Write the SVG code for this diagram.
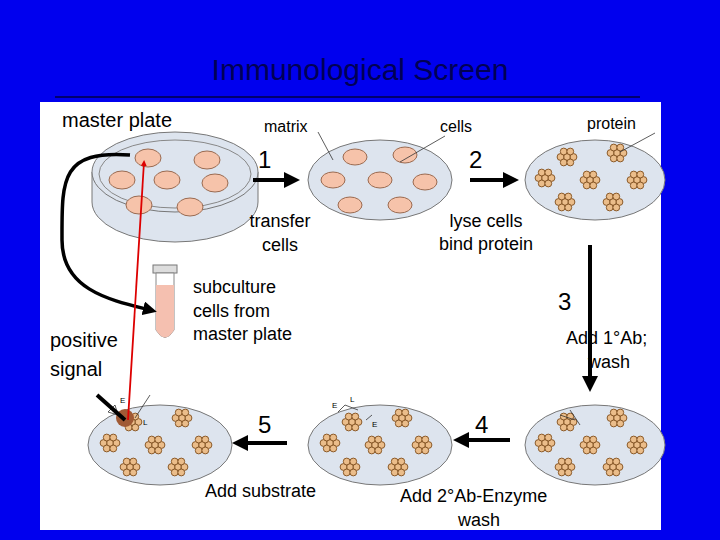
<svg xmlns="http://www.w3.org/2000/svg" width="720" height="540" viewBox="0 0 720 540">
<style>
text{font-family:"Liberation Sans",Arial,sans-serif;fill:#000}
.plate{fill:#dde4ee;stroke:#777;stroke-width:1}
.col{fill:#f6c3aa;stroke:#9a6a50;stroke-width:1}
.ar{stroke:#000;stroke-width:4;fill:none;marker-end:url(#ah)}
.thin{stroke:#333;stroke-width:0.8;fill:none}
</style>
<defs>
<marker id="ah" markerWidth="4" markerHeight="4" refX="2" refY="2" orient="auto"><path d="M0,0L4,2L0,4z" fill="#000"/></marker>
<marker id="rh" markerWidth="6" markerHeight="6" refX="4" refY="3" orient="auto" markerUnits="userSpaceOnUse"><path d="M0,0L6,3L0,6z" fill="#d00"/></marker>
<g id="cl" fill="#ebbd8a" stroke="#8a5a2a" stroke-width="1">
<circle cx="0" cy="0" r="3.4"/><circle cx="-6.5" cy="0" r="3.4"/><circle cx="6.5" cy="0" r="3.4"/><circle cx="-3.3" cy="-5.5" r="3.4"/><circle cx="3.3" cy="-5.5" r="3.4"/><circle cx="-3.3" cy="5.5" r="3.4"/><circle cx="3.3" cy="5.5" r="3.4"/>
</g>
<g id="cls"><use href="#cl" x="-28" y="-23"/><use href="#cl" x="22" y="-27"/><use href="#cl" x="-50" y="-2"/><use href="#cl" x="-5" y="0"/><use href="#cl" x="42" y="0"/><use href="#cl" x="-30" y="22"/><use href="#cl" x="18" y="22"/></g>
</defs>
<rect width="720" height="540" fill="#0000ee"/>
<rect x="40" y="102" width="621" height="428" fill="#fff"/>
<text x="360" y="80" font-size="30" text-anchor="middle" fill="#000055" style="fill:#000055">Immunological Screen</text>
<line x1="55" y1="97" x2="640" y2="97" stroke="#000044" stroke-width="1.5"/>
<g id="master">
<path d="M92,172 L92,202 A83,40 0 0 0 258,202 L258,172" fill="#dde4ee" stroke="#777"/>
<ellipse cx="175" cy="172" rx="83" ry="40" class="plate"/>
<ellipse cx="175" cy="174" rx="76" ry="34" fill="none" stroke="#888"/>
<g class="col"><ellipse cx="148" cy="158" rx="13" ry="9"/><ellipse cx="207" cy="160" rx="13" ry="9"/><ellipse cx="122" cy="180" rx="13" ry="9"/><ellipse cx="167" cy="180" rx="13" ry="9"/><ellipse cx="215" cy="183" rx="13" ry="9"/><ellipse cx="139" cy="205" rx="13" ry="9"/><ellipse cx="190" cy="207" rx="13" ry="9"/></g>
<text x="62" y="127" font-size="20">master plate</text>
</g>
<g id="matrixplate">
<ellipse cx="380" cy="180" rx="72" ry="40" class="plate"/>
<g class="col"><ellipse cx="355" cy="157" rx="12" ry="8"/><ellipse cx="405" cy="155" rx="12" ry="8"/><ellipse cx="333" cy="180" rx="12" ry="8"/><ellipse cx="380" cy="180" rx="12" ry="8"/><ellipse cx="425" cy="182" rx="12" ry="8"/><ellipse cx="350" cy="205" rx="12" ry="8"/><ellipse cx="400" cy="205" rx="12" ry="8"/></g>
<text x="264" y="132" font-size="16">matrix</text>
<path class="thin" d="M318,132 L333,160"/>
<text x="440" y="132" font-size="16">cells</text>
<path class="thin" d="M445,136 L400,162"/>
</g>
<g id="proteinplate">
<ellipse cx="595" cy="180" rx="70" ry="40" class="plate"/>
<use href="#cls" x="595" y="180"/>
<text x="587" y="129" font-size="16">protein</text>
<path class="thin" d="M655,133 L620,152"/>
</g>
<g id="plate3"><ellipse cx="595" cy="445" rx="70" ry="40" class="plate"/><use href="#cls" x="595" y="445"/><path class="thin" d="M560,415 L575,420 M570,410 L580,425"/></g>
<g id="plate4"><ellipse cx="380" cy="445" rx="72" ry="40" class="plate"/><use href="#cls" x="380" y="445"/>
<text x="332" y="408" font-size="8">E</text><text x="350" y="402" font-size="8">L</text><text x="372" y="427" font-size="8">E</text><path class="thin" d="M338,412 L345,405 L358,410 M366,420 L372,415"/></g>
<g id="plate5"><ellipse cx="160" cy="445" rx="72" ry="40" class="plate"/><use href="#cls" x="160" y="445"/>
<circle cx="125" cy="418" r="9" fill="#a05a35"/>
<text x="120" y="403" font-size="8">E</text><text x="143" y="425" font-size="8">L</text><path class="thin" d="M108,412 L115,405 L118,415z M135,418 L150,395"/>
<text x="50" y="347" font-size="20">positive</text><text x="50" y="376" font-size="20">signal</text>
<line x1="97" y1="395" x2="125" y2="420" stroke="#000" stroke-width="4"/>
</g>
<g id="tube">
<rect x="153" y="265" width="24" height="8" fill="#ddd" stroke="#777"/>
<path d="M156,273 L156,330 Q165,345 174,330 L174,273z" fill="#fff" stroke="#888"/>
<path d="M156,285 L156,330 Q165,345 174,330 L174,285z" fill="#f5c0b0"/>
</g>
<g id="connectors">
<line x1="253" y1="180" x2="292" y2="180" class="ar"/>
<line x1="470" y1="180" x2="511" y2="180" class="ar"/>
<line x1="590" y1="245" x2="590" y2="384" class="ar"/>
<line x1="510" y1="440" x2="461" y2="440" class="ar"/>
<line x1="287" y1="443" x2="240" y2="443" class="ar"/>
<path d="M130,155 C60,150 62,180 62,240 C62,290 110,300 150,310" fill="none" stroke="#000" stroke-width="3.5" marker-end="url(#ah)"/>
<line x1="128" y1="420" x2="144" y2="162" stroke="#d00" stroke-width="1.8" marker-end="url(#rh)"/>
</g>
<g id="labels" font-size="18">
<text x="258" y="168" font-size="24">1</text>
<text x="469" y="168" font-size="24">2</text>
<text x="558" y="310" font-size="24">3</text>
<text x="475" y="433" font-size="24">4</text>
<text x="258" y="433" font-size="24">5</text>
<text x="280" y="227" text-anchor="middle">transfer</text><text x="280" y="251" text-anchor="middle">cells</text>
<text x="486" y="227" text-anchor="middle">lyse cells</text><text x="486" y="250" text-anchor="middle">bind protein</text>
<text x="193" y="293">subculture</text><text x="193" y="317">cells from</text><text x="193" y="340">master plate</text>
<text x="566" y="344">Add 1°Ab;</text><text x="588" y="368">wash</text>
<text x="205" y="497">Add substrate</text>
<text x="400" y="502">Add 2°Ab-Enzyme</text><text x="458" y="526">wash</text>
</g>
</svg>
